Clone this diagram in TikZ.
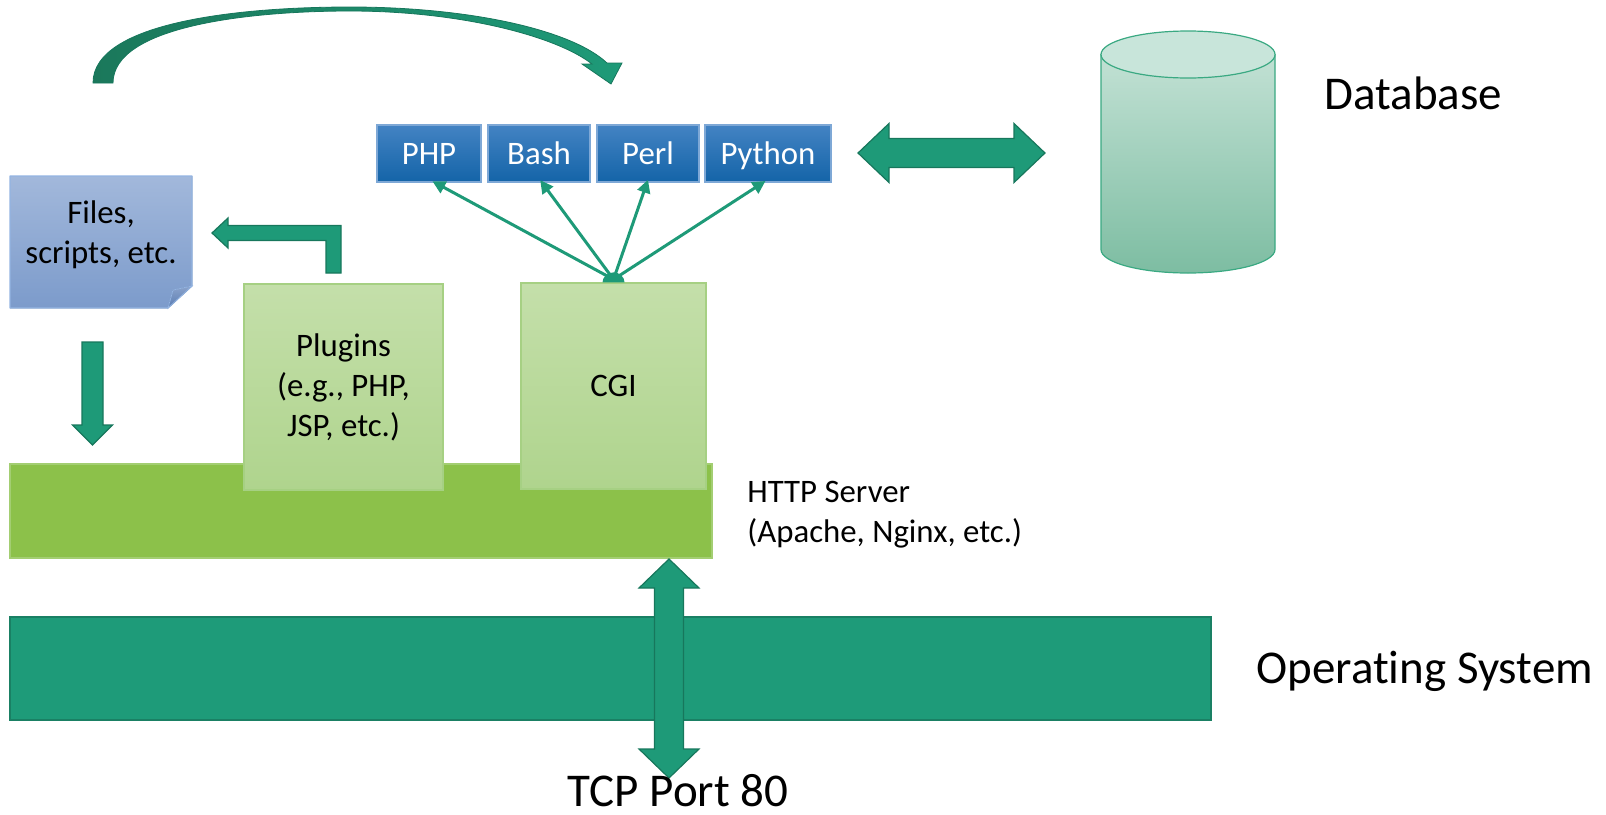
\documentclass[tikz,border=0pt]{standalone}
\usepackage{fontspec}
\setmainfont{Carlito}[Ligatures=NoCommon]
\usetikzlibrary{arrows.meta,calc}

\definecolor{arrowgreen}{HTML}{1E9A78}
\definecolor{arrowedge}{HTML}{17775C}
\definecolor{arrowdark}{HTML}{1B785B}
\definecolor{osgreen}{HTML}{1E9B79}
\definecolor{osedge}{HTML}{1A8064}
\definecolor{httpgreen}{HTML}{8CC14A}
\definecolor{httpedge}{HTML}{A3CE72}
\definecolor{modtop}{HTML}{C4DFAA}
\definecolor{modbot}{HTML}{AFD48D}
\definecolor{modedge}{HTML}{A6D083}
\definecolor{langtop}{HTML}{4383C3}
\definecolor{langbot}{HTML}{1464A8}
\definecolor{langedge}{HTML}{7EA8D6}
\definecolor{filetop}{HTML}{A2B8DB}
\definecolor{filebot}{HTML}{7C9BCB}
\definecolor{fileedge}{HTML}{93B4E2}
\definecolor{foldtop}{HTML}{8BA3CB}
\definecolor{foldbot}{HTML}{5A7DB3}
\definecolor{dbtop}{HTML}{C2E1D4}
\definecolor{dbbot}{HTML}{7DBDA2}
\definecolor{dbcap}{HTML}{C8E5DA}
\definecolor{dbedge}{HTML}{3AA982}

\tikzset{
  bigtext/.style={font=\fontsize{23.5pt}{28pt}\selectfont, text=black, inner sep=0pt},
  smalltext/.style={font=\fontsize{16.4pt}{20pt}\selectfont, text=black, inner sep=0pt, align=center},
  langbox/.style={draw=langedge, line width=0.6pt, top color=langtop, bottom color=langbot,
    text=white, font=\fontsize{16.4pt}{20pt}\selectfont, minimum height=28.5pt, inner sep=0pt,
    text height=12pt, text depth=1.4pt},
  modbox/.style={draw=modedge, line width=0.6pt, top color=modtop, bottom color=modbot,
    minimum height=103pt, inner sep=0pt, align=center, font=\fontsize{16.4pt}{20pt}\selectfont},
  blockarrow/.style={fill=arrowgreen, draw=arrowedge, line width=0.6pt, line join=miter},
  link/.style={draw=arrowgreen, line width=1.5pt, -{Triangle[length=6.5pt,width=6.5pt]}},
}

\begin{document}
\begin{tikzpicture}[x=0.5pt,y=-0.5pt]
\useasboundingbox (0,0) rectangle (1606,814);

% operating system layer
\node[draw=osedge, fill=osgreen, line width=0.6pt, minimum width=600.5pt, minimum height=51.5pt, inner sep=0pt]
  (os) at (610.5,668.5) {};
\node[bigtext, anchor=west] (oslabel) at (1256,671) {Operating System};

% HTTP server layer
\node[draw=httpedge, fill=httpgreen, line width=0.6pt, minimum width=351pt, minimum height=47pt, inner sep=0pt]
  (http) at (361,511) {};
\node[smalltext, anchor=west, align=left] (httplabel) at (747,515) {HTTP Server\\(Apache, Nginx, etc.)};

% server modules
\node[modbox, minimum width=99.5pt] (plugins) at (343.5,387) {Plugins\\(e.g., PHP,\\JSP, etc.)};
\node[modbox, minimum width=92.5pt] (cgi) at (613.5,386) {CGI};

% script interpreters
\node[langbox, minimum width=52pt] (php) at (429,153.5) {PHP};
\node[langbox, minimum width=51pt] (bash) at (539,153.5) {Bash};
\node[langbox, minimum width=51pt] (perl) at (648,153.5) {Perl};
\node[langbox, minimum width=63pt] (python) at (768,153.5) {Python};

% CGI dispatch to the interpreters
\coordinate (hub) at ($(cgi.north)+(0,-3)$);
\draw[link, shorten >=-1.5pt] (hub) -- ($(php.south)+(6,0)$);
\draw[link, shorten >=-1.5pt] (hub) -- ($(bash.south)+(3,0)$);
\draw[link, shorten >=-1.5pt] (hub) -- ($(perl.south)+(-1,0)$);
\draw[link, shorten >=-1.5pt] (hub) -- ($(python.south)+(-5,0)$);
\fill[arrowgreen] ($(cgi.north)+(-11,0)$) arc[start angle=180, end angle=360, x radius=11, y radius=10] -- cycle;

% files and scripts document with folded corner
\fill[top color=filetop, bottom color=filebot] (10,176) -- (192,176) -- (192,286) -- (168,308) -- (10,308) -- cycle;
\draw[fileedge, line width=0.6pt, line join=round] (10,176) -- (192,176) -- (192,286) -- (168,308) -- (10,308) -- cycle;
\fill[top color=foldtop, bottom color=foldbot, draw=fileedge, line width=0.4pt] (192,286) -- (173,290) -- (168,308) -- cycle;
\node[smalltext] (files) at (101,235) {Files,\\scripts, etc.};

% files feed the HTTP server
\draw[blockarrow] (82,342) -- (103,342) -- (103,425) -- (112.5,425) -- (92.5,445) -- (72.5,425) -- (82,425) -- cycle;

% plugins reach back to the files
\draw[blockarrow] (341,273) -- (341,225.5) -- (228,225.5) -- (228,218) -- (212,233) -- (228,248)
  -- (228,240.5) -- (326,240.5) -- (326,273) -- cycle;

% curved arrow from the files over to the interpreters
\draw[left color=arrowdark, right color=arrowgreen, draw=arrowedge, line width=0.4pt, line join=miter]
  (93,83) .. controls (93,22) and (240,7) .. (350,7)
  .. controls (470,7) and (572,30) .. (607,63)
  -- (622,63) -- (611,84) -- (582,64) -- (592,64)
  .. controls (556,36) and (460,11) .. (350,11)
  .. controls (250,11) and (113,26) .. (113,83) -- cycle;

% interpreters exchange data with the database
\draw[blockarrow] (858,153) -- (889,123.5) -- (889,138.5) -- (1014,138.5) -- (1014,123.5) -- (1045,153)
  -- (1014,182.5) -- (1014,167.5) -- (889,167.5) -- (889,182.5) -- cycle;

% database cylinder
\draw[dbedge, line width=0.6pt, top color=dbtop, bottom color=dbbot]
  (1101,54.5) -- (1101,249.5) arc[start angle=180, end angle=0, x radius=87, y radius=23.5] -- (1275,54.5) -- cycle;
\draw[dbedge, line width=0.6pt, fill=dbcap] (1188,54.5) ellipse [x radius=87, y radius=23.5];
\node[bigtext, anchor=west] (dblabel) at (1324,93) {Database};

% network port through the operating system
\draw[blockarrow] (669,559) -- (699,588) -- (683.5,588) -- (683.5,749) -- (699,749) -- (669,778)
  -- (639,749) -- (654.5,749) -- (654.5,588) -- (639,588) -- cycle;
\node[bigtext] (port) at (678,791) {TCP Port 80};

\end{tikzpicture}
\end{document}
